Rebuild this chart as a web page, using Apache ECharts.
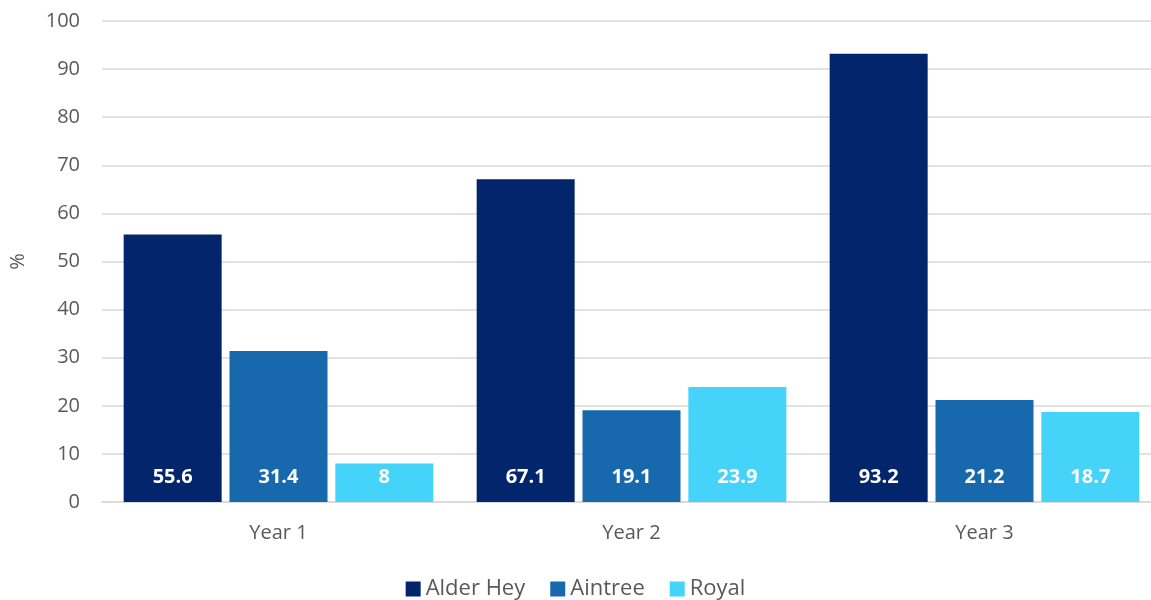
<!DOCTYPE html>
<html><head><meta charset="utf-8">
<script src="https://cdn.jsdelivr.net/npm/echarts@6/dist/echarts.min.js"></script>
<style>html,body{margin:0;padding:0;background:#fff}#c{width:1151px;height:600px}</style>
</head><body><div id="c"></div>
<script>
var categories = ['Year 1', 'Year 2', 'Year 3'];
var alderHey = [55.6, 67.1, 93.2];
var aintree = [31.4, 19.1, 21.2];
var royal = [8, 23.9, 18.7];
var seriesNames = ['Alder Hey', 'Aintree', 'Royal'];
var colors = ['#03256C', '#1868AE', '#45D3FA'];
var font = 'Open Sans, Liberation Sans, sans-serif';
var chart = echarts.init(document.getElementById('c'));
function mk(name, data, color) {
  return {
    name: name, type: 'bar', data: data, barWidth: 98, barGap: '8%',
    itemStyle: { color: color },
    label: { show: true, position: 'insideBottom', distance: 15, color: '#fff', fontWeight: 'bold', fontSize: 20, fontFamily: font }
  };
}
chart.setOption({
  animation: false,
  color: colors,
  grid: { left: 102, width: 1059, top: 21, bottom: 98, outerBoundsMode: 'none', containLabel: false },
  legend: {
    bottom: -5, left: 'center', itemWidth: 15, itemHeight: 15, itemGap: 25, icon: 'rect',
    textStyle: { fontSize: 22, color: '#595959', fontFamily: font },
    data: seriesNames
  },
  xAxis: {
    type: 'category', data: categories,
    axisLine: { lineStyle: { color: '#d9d9d9', width: 1.5 } },
    axisTick: { show: false },
    axisLabel: { fontSize: 20, color: '#595959', margin: 21, fontFamily: font }
  },
  yAxis: {
    type: 'value', min: 0, max: 100, interval: 10,
    name: '%', nameLocation: 'middle', nameGap: 74, nameRotate: 90,
    nameTextStyle: { fontSize: 20, color: '#595959', fontFamily: font },
    axisLine: { show: false }, axisTick: { show: false },
    axisLabel: { fontSize: 20, color: '#595959', margin: 22, fontFamily: font },
    splitLine: { lineStyle: { color: '#d9d9d9', width: 1.5 } }
  },
  series: [mk(seriesNames[0], alderHey, colors[0]), mk(seriesNames[1], aintree, colors[1]), mk(seriesNames[2], royal, colors[2])]
});
</script></body></html>
